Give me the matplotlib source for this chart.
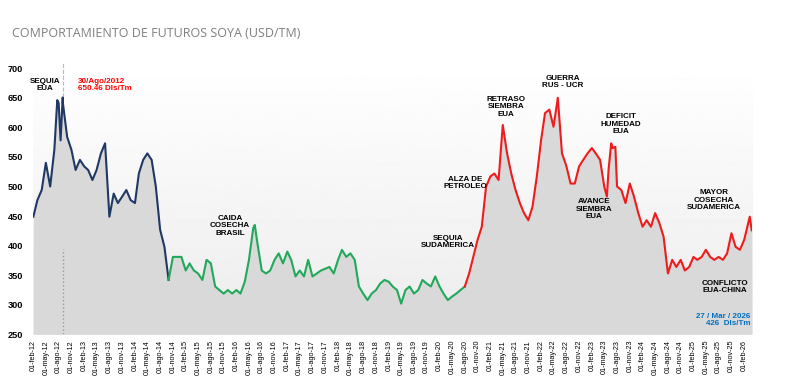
import numpy as np
import pandas as pd
import matplotlib
matplotlib.use("Agg")
import matplotlib.pyplot as plt

# precio mensual futuros soya (USD/TM), feb-2012 .. feb-2026
values = [
    449, 477, 494, 540, 500, 562, 641, 640, 584, 562, 528, 545,   # 2012-02 .. 2013-01
    534, 528, 511, 528, 556, 573, 449, 488, 472, 483, 494, 477,   # 2013-02 .. 2014-01
    472, 522, 545, 556, 545, 500, 427, 398, 342, 381, 381, 381,   # 2014-02 .. 2015-01
    358, 370, 358, 353, 342, 376, 370, 331, 325, 319, 325, 319,   # 2015-02 .. 2016-01
    325, 319, 339, 376, 430, 404, 358, 353, 358, 376, 387, 370,   # 2016-02 .. 2017-01
    390, 376, 348, 358, 348, 376, 348, 353, 358, 361, 364, 353,   # 2017-02 .. 2018-01
    376, 393, 381, 387, 376, 331, 319, 308, 319, 325, 336, 342,   # 2018-02 .. 2019-01
    339, 331, 325, 302, 325, 331, 319, 325, 342, 336, 331, 348,   # 2019-02 .. 2020-01
    331, 319, 308, 314, 319, 325, 331, 353, 381, 410, 432, 500,   # 2020-02 .. 2021-01
    517, 522, 511, 604, 556, 522, 494, 472, 455, 443, 466, 517,   # 2021-02 .. 2022-01
    579, 624, 630, 601, 650, 556, 535, 505, 505, 534, 545, 556,   # 2022-02 .. 2023-01
    565, 556, 545, 500, 528, 565, 500, 494, 472, 505, 483, 455,   # 2023-02 .. 2024-01
    432, 443, 432, 455, 438, 415, 353, 376, 364, 376, 358, 364,   # 2024-02 .. 2025-01
    381, 376, 381, 393, 381, 376, 381, 376, 387, 421, 398, 393,   # 2025-02 .. 2026-01
    410,                                                         # 2026-02
]
dates = list(pd.date_range("2012-02-01", periods=len(values), freq="MS"))

# picos y valles intermedios + ultimo dato
extra_dates = ["2012-07-22", "2012-08-15", "2012-08-30", "2016-06-12",
               "2023-05-20", "2023-06-20", "2023-07-20", "2026-03-13", "2026-03-27"]
extra_values = [646, 578, 650.46, 435, 483, 573, 567, 449, 426]

s = pd.Series(values + extra_values, index=pd.to_datetime(dates + extra_dates)).sort_index()
dates = s.index
values = s.values.astype(float)

# tramos de color
cut1 = pd.Timestamp("2014-10-01")
cut2 = pd.Timestamp("2020-08-01")
navy, green, red = "#1f3864", "#21a95a", "#ee1c1c"

fig = plt.figure(figsize=(8, 3.8), dpi=100)
ax = fig.add_axes([0.041, 0.12, 0.899, 0.713])

# fondo degradado del area de trazado
grad = np.linspace(1.0, 0.925, 256).reshape(-1, 1)
ax.imshow(grad, extent=[0, 1, 0, 1], transform=ax.transAxes, aspect="auto",
          cmap="gray", vmin=0, vmax=1, zorder=0)

ax.fill_between(dates, values, 250, color="#d9d9d9", zorder=1, lw=0)

m1 = dates <= cut1
m2 = (dates >= cut1) & (dates <= cut2)
m3 = dates >= cut2
ax.plot(dates[m1], values[m1], color=navy, lw=1.5, zorder=3)
ax.plot(dates[m2], values[m2], color=green, lw=1.5, zorder=3)
ax.plot(dates[m3], values[m3], color=red, lw=1.5, zorder=3)

# linea del maximo 30/Ago/2012
peak_date = pd.Timestamp("2012-08-30")
ax.plot([peak_date, peak_date], [650.46, 708], color="#bbbbbb", lw=0.8, ls="--", zorder=2)
ax.plot([peak_date, peak_date], [250, 395], color="#999999", lw=1.0, ls=":", zorder=2)

ax.set_ylim(250, 708)
ax.set_xlim(pd.Timestamp("2012-01-28"), pd.Timestamp("2026-03-29"))
ax.set_yticks(range(250, 701, 50))

meses = {2: "feb", 5: "may", 8: "ago", 11: "nov"}
ticks = pd.date_range("2012-02-01", "2026-02-01", freq="3MS")
ax.set_xticks(ticks)
ax.set_xticklabels(["01-%s-%s" % (meses[t.month], str(t.year)[2:]) for t in ticks],
                   rotation=90, fontsize=5.2, family="Liberation Sans")
for lab in ax.get_yticklabels():
    lab.set_family("Liberation Sans")
    lab.set_fontsize(6.6)
    lab.set_fontweight("bold")
ax.tick_params(axis="y", length=0, pad=7)
ax.tick_params(axis="x", length=0, pad=4)
for sp in ax.spines.values():
    sp.set_visible(False)

fig.text(0.015, 0.913, "COMPORTAMIENTO DE FUTUROS SOYA (USD/TM)", fontsize=9.0,
         color="#7f7f7f", family="Open Sans", va="center")

notes = [
    ("SEQUIA\nEUA", 45, 85),
    ("CAIDA\nCOSECHA\nBRASIL", 230, 226),
    ("SEQUIA\nSUDAMERICA", 448, 242),
    ("ALZA DE\nPETROLEO", 465, 183),
    ("RETRASO\nSIEMBRA\nEUA", 506, 107),
    ("GUERRA\nRUS - UCR", 563, 82),
    ("DEFICIT\nHUMEDAD\nEUA", 621, 124),
    ("AVANCE\nSIEMBRA\nEUA", 594, 209),
    ("MAYOR\nCOSECHA\nSUDAMERICA", 714, 200),
    ("CONFLICTO\nEUA-CHINA", 725, 287),
]
for txt, px, py in notes:
    fig.text(px / 800, 1 - py / 380, txt, ha="center", va="center", fontsize=5.8,
             fontweight="bold", family="Liberation Sans", linespacing=1.05, zorder=5)

fig.text(78 / 800, 1 - 85 / 380, "30/Ago/2012\n650.46 Dls/Tm", ha="left", va="center",
         fontsize=5.8, fontweight="bold", color="#ff0000", family="Liberation Sans",
         linespacing=1.05)
fig.text(750 / 800, 1 - 320 / 380, "27 / Mar / 2026\n426  Dls/Tm", ha="right", va="center",
         fontsize=5.8, fontweight="bold", color="#0070c0", family="Liberation Sans",
         linespacing=1.05, multialignment="right")

fig.savefig("out.png", dpi=100)
